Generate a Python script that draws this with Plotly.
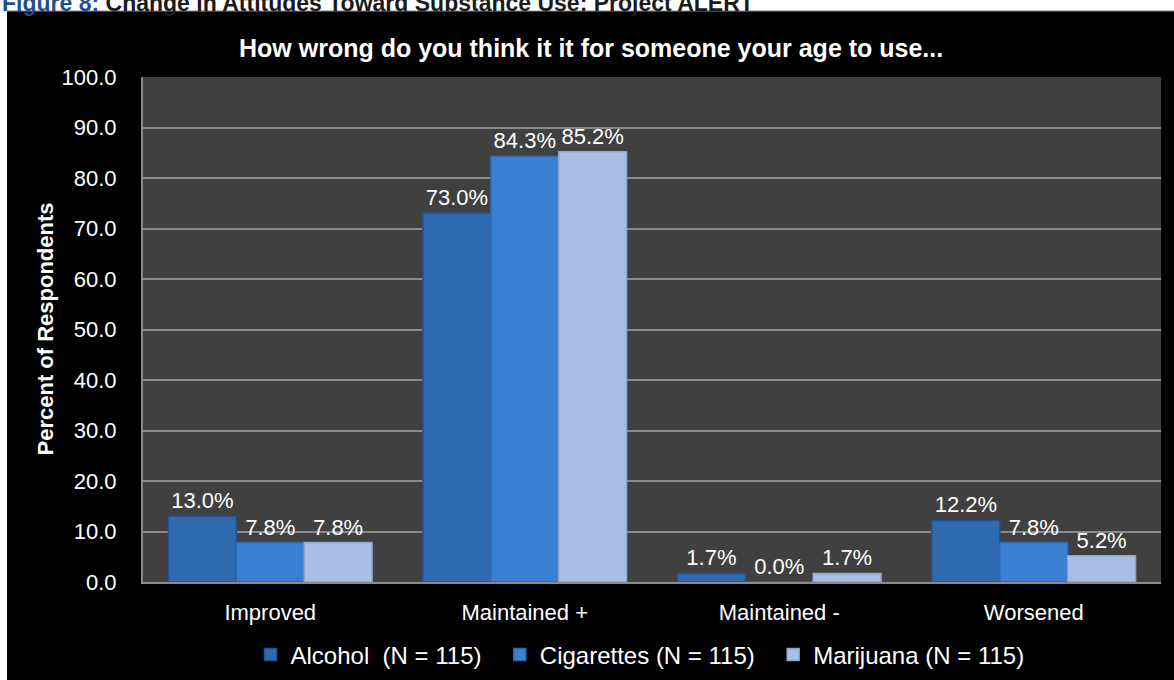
import plotly.graph_objects as go

categories = ["Improved", "Maintained +", "Maintained -", "Worsened"]
series_names = ["Alcohol&nbsp; (N = 115)&nbsp;&nbsp;", "Cigarettes (N = 115)&nbsp;&nbsp;", "Marijuana (N = 115)"]
alcohol = [13.0, 73.0, 1.7, 12.2]
cigarettes = [7.8, 84.3, 0.0, 7.8]
marijuana = [7.8, 85.2, 1.7, 5.2]
colors = ["#2F69B0", "#3A80D2", "#A9BEE3"]
line_colors = ["#24558F", "#2E69B0", "#8FA5CC"]

W, H = 1174, 680
L, R, T, B = 143, 13, 77, 98
pw, ph = W - L - R, H - T - B

def px_x(px):
    return (px - L) / pw

def px_y(py):
    return 1 - (py - T) / ph

FONT = "Arial, Liberation Sans, sans-serif"

fig = go.Figure()
for name, vals, c, lc in zip(series_names, [alcohol, cigarettes, marijuana], colors, line_colors):
    fig.add_trace(go.Bar(
        x=categories, y=vals, name=name,
        marker=dict(color=c, line=dict(color=lc, width=1.5)),
        texttemplate="%{y:.1f}%", textposition="outside",
        textfont=dict(color="white", size=22, family=FONT),
        cliponaxis=False,
    ))

fig.update_layout(
    width=W, height=H,
    margin=dict(l=L, r=R, t=T, b=B, autoexpand=False),
    paper_bgcolor="black",
    plot_bgcolor="#404040",
    barmode="group", bargap=0.2, bargroupgap=0,
    font=dict(family=FONT, color="white", size=22),
    showlegend=True,
    legend=dict(orientation="h", x=px_x(640), xanchor="center", y=px_y(655), yanchor="middle",
                font=dict(size=24, color="white"), bgcolor="rgba(0,0,0,0)",
                traceorder="normal", itemwidth=30),
    xaxis=dict(showgrid=False, showline=True, linecolor="#8a8a8a", linewidth=2,
               tickfont=dict(size=22, color="white"), ticks="", ticklabelstandoff=10,
               automargin=False),
    yaxis=dict(range=[0, 100], dtick=10, tickformat=".1f", showgrid=True,
               gridcolor="#8a8a8a", gridwidth=2, showline=True, linecolor="#8a8a8a", linewidth=2,
               zeroline=False, tickfont=dict(size=22, color="white"), ticks="",
               ticklabelstandoff=20, automargin=False),
    shapes=[
        dict(type="rect", xref="paper", yref="paper", x0=-0.2, x1=1.1,
             y0=px_y(11), y1=px_y(-20), fillcolor="white", line=dict(width=0), layer="below"),
        dict(type="rect", xref="paper", yref="paper", x0=-0.2, x1=px_x(7),
             y0=-0.3, y1=px_y(-20), fillcolor="white", line=dict(width=0), layer="below"),
        dict(type="line", xref="paper", yref="paper", x0=px_x(7), x1=1.1,
             y0=px_y(11), y1=px_y(11), line=dict(color="#888888", width=1), layer="below"),
    ],
    annotations=[
        dict(text="<b>How wrong do you think it it for someone your age to use...</b>",
             xref="paper", yref="paper", x=px_x(591), y=px_y(48), xanchor="center", yanchor="middle",
             showarrow=False, font=dict(size=25, color="white", family=FONT)),
        dict(text="<b>Percent of Respondents</b>", textangle=-90,
             xref="paper", yref="paper", x=px_x(45), y=0.5, xanchor="center", yanchor="middle",
             showarrow=False, font=dict(size=22, color="white", family=FONT)),
        dict(text="<b><span style='color:#1F4E8C'>Figure 8:</span> Change in Attitudes Toward Substance Use: Project ALERT</b>",
             xref="paper", yref="paper", x=px_x(0), y=px_y(3), xanchor="left", yanchor="middle",
             showarrow=False, font=dict(size=23, color="#1a1a1a", family=FONT)),
    ],
)

fig.write_html("out.html", config={"displayModeBar": False},
               post_script="document.body.style.margin='0';document.body.style.overflow='hidden';")
